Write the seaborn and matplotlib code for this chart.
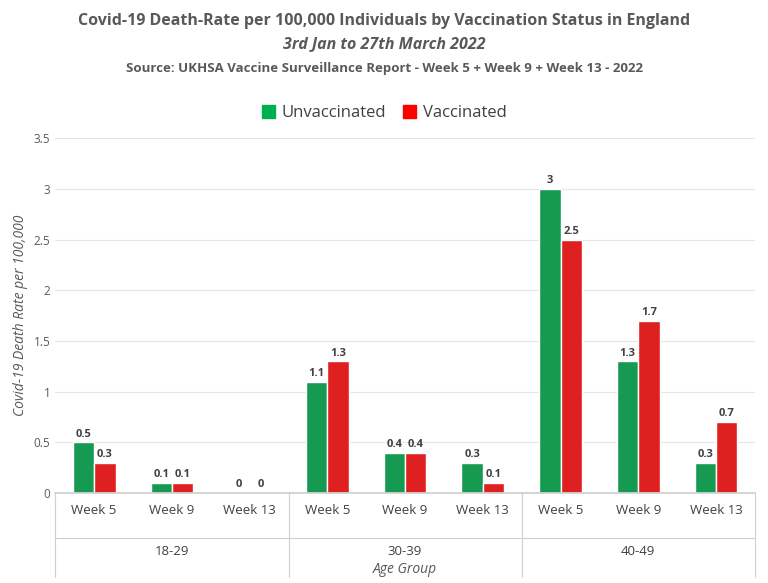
import matplotlib
matplotlib.use("Agg")
import matplotlib.pyplot as plt
import seaborn as sns
import pandas as pd
import numpy as np

weeks = ['Week 5', 'Week 9', 'Week 13'] * 3
age_groups = ['18-29', '30-39', '40-49']
unvaccinated = [0.5, 0.1, 0, 1.1, 0.4, 0.3, 3, 1.3, 0.3]
vaccinated = [0.3, 0.1, 0, 1.3, 0.4, 0.1, 2.5, 1.7, 0.7]

keys = [f'{g}|{w}' for g in age_groups for w in ['Week 5', 'Week 9', 'Week 13']]
df = pd.DataFrame({
    'key': keys * 2,
    'rate': unvaccinated + vaccinated,
    'status': ['Unvaccinated'] * 9 + ['Vaccinated'] * 9,
})

sns.set_theme(style='white')
plt.rcParams['font.family'] = ['Open Sans', 'DejaVu Sans']

fig = plt.figure(figsize=(7.68, 5.83), dpi=100)
ax = fig.add_axes([0.072, 0.154, 0.911, 0.609])
sns.barplot(data=df, x='key', y='rate', hue='status', order=keys,
            palette={'Unvaccinated': '#00b050', 'Vaccinated': '#ff0000'},
            width=0.55, ax=ax, legend=False)

for cont in ax.containers:
    ax.bar_label(cont, labels=[f'{v:g}' for v in cont.datavalues], fontsize=8,
                 fontweight='bold', color='#404040', padding=2)

ax.set_ylim(0, 3.5)
ax.set_xlim(-0.5, 8.5)
ax.set_yticks(np.arange(0, 3.51, 0.5))
ax.set_yticklabels([f'{v:g}' for v in np.arange(0, 3.51, 0.5)], fontsize=8.5, color='#595959')
ax.set_xticks(range(9))
ax.set_xticklabels(weeks, fontsize=9.5, color='#404040')
ax.tick_params(axis='x', length=0, pad=8)
ax.tick_params(axis='y', length=0)
ax.yaxis.grid(True, color='#e6e6e6', lw=0.8)
ax.set_axisbelow(True)
for s in ['top', 'right', 'left']:
    ax.spines[s].set_visible(False)
ax.spines['bottom'].set_color('#d0d0d0')
ax.set_xlabel('')
ax.set_ylabel('Covid-19 Death Rate per 100,000', fontsize=10, style='italic', color='#595959')

trans = ax.get_xaxis_transform()
for xb in [-0.5, 2.5, 5.5, 8.5]:
    ax.plot([xb, xb], [0, -0.235], transform=trans, color='#d0d0d0', lw=0.8, clip_on=False)
ax.plot([-0.5, 8.5], [-0.125, -0.125], transform=trans, color='#d0d0d0', lw=0.8, clip_on=False)
for i, g in enumerate(age_groups):
    ax.text(i * 3 + 1, -0.165, g, transform=trans, ha='center', va='center',
            fontsize=9.5, color='#404040')
ax.text(4, -0.215, 'Age Group', transform=trans, ha='center', va='center',
        fontsize=10, style='italic', color='#595959')

fig.text(0.5, 0.957, 'Covid-19 Death-Rate per 100,000 Individuals by Vaccination Status in England',
         ha='center', fontsize=11.5, fontweight='bold', color='#595959')
fig.text(0.5, 0.917, '3rd Jan to 27th March 2022', ha='center', fontsize=11.5,
         fontweight='bold', style='italic', color='#595959')
fig.text(0.5, 0.877, 'Source: UKHSA Vaccine Surveillance Report - Week 5 + Week 9 + Week 13 - 2022',
         ha='center', fontsize=9.5, fontweight='bold', color='#595959')

from matplotlib.patches import Patch
handles = [Patch(color='#00b050', label='Unvaccinated'), Patch(color='#ff0000', label='Vaccinated')]
fig.legend(handles=handles, loc='center', bbox_to_anchor=(0.5, 0.806), ncol=2, frameon=False,
           fontsize=12, handlelength=0.8, handleheight=0.8, columnspacing=1.0,
           handletextpad=0.4, labelcolor='#404040')

fig.savefig('out.png', dpi=100)
